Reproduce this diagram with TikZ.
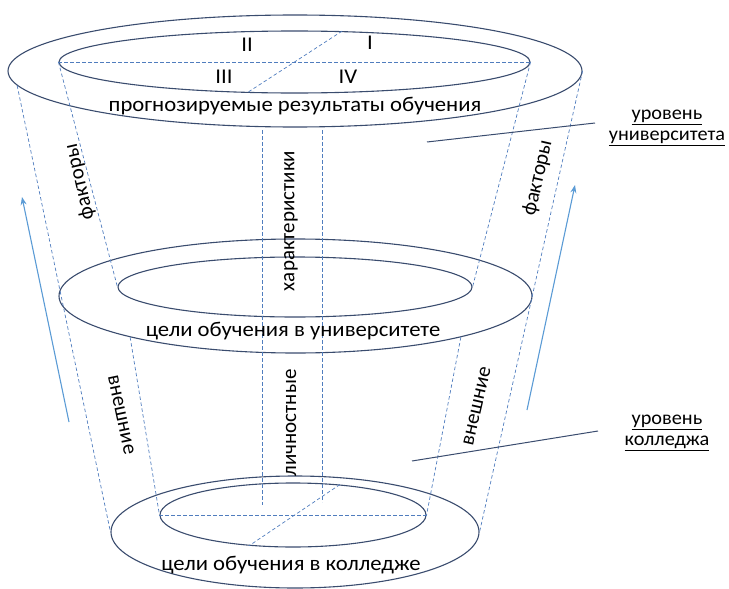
\documentclass[tikz,border=0pt]{standalone}
\usepackage{fontspec}
\setmainfont{Carlito}
\newfontfamily\wideface{Carlito}[FakeStretch=1.08]
\newfontfamily\sideface{Carlito}[FakeStretch=1.04]
\usetikzlibrary{positioning,arrows.meta,shapes.geometric}
\definecolor{ringcol}{RGB}{58,76,110}
\definecolor{dashcol}{RGB}{80,125,190}
\definecolor{flowcol}{RGB}{91,155,213}
\tikzset{
  ring/.style={draw=ringcol, ellipse, line width=1.1pt, inner sep=0pt},
  guide/.style={draw=dashcol, dash pattern=on 3.5pt off 2.5pt, line width=0.7pt},
  flow/.style={-{Stealth[length=8pt,width=6pt]}, draw=flowcol, line width=1.1pt},
  leader/.style={draw=ringcol, line width=1pt},
  lbl/.style={font=\wideface\fontsize{21}{23}\selectfont, inner sep=0pt},
  uplbl/.style={font=\fontsize{21}{23}\selectfont, inner sep=0pt},
  sidelbl/.style={font=\sideface\fontsize{19.5}{21}\selectfont, inner sep=0pt, align=center}
}

\begin{document}
\begin{tikzpicture}[x=1pt, y=-1pt]
  \useasboundingbox (0,0) rectangle (729,589);

  % rings of the cone
  \node[ring, minimum width=574pt, minimum height=112pt] (topout) at (295,71) {};
  \node[ring, minimum width=471pt, minimum height=62pt] (topin) at (294.5,62) {};
  \node[ring, minimum width=473pt, minimum height=114pt] (midout) at (295.5,296) {};
  \node[ring, minimum width=354pt, minimum height=60pt] (midin) at (295,287) {};
  \node[ring, minimum width=368pt, minimum height=112pt] (botout) at (295,532) {};
  \node[ring, minimum width=266pt, minimum height=64pt] (botin) at (293,515) {};

  % sides of the cone
  \draw[guide] (topout.183) -- (botout.west);
  \draw[guide] (topout.east) -- (botout.east);
  \draw[guide] (topin.west) -- (midin.west);
  \draw[guide] (topin.east) -- (midin.east);
  \draw[guide] (midout.194) -- (botin.west);
  \draw[guide] (midout.346) -- (botin.east);

  % quarters
  \draw[guide] (topin.west) -- (topin.east);
  \draw[guide] (topin.33) -- (topin.213);
  \draw[guide] (botin.west) -- (botin.east);
  \draw[guide] (botin.33) -- (botin.215);

  \coordinate (ch1top) at (262,130);
  \coordinate (ch1bot) at (262,505);
  \coordinate (ch2top) at (322,130);
  \coordinate (ch2bot) at (322,502);
  \draw[guide] (ch1top) -- (ch1bot);
  \draw[guide] (ch2top) -- (ch2bot);

  \node[lbl] (q2) at (247,45) {II};
  \node[lbl] (q1) at (370,43) {I};
  \node[lbl] (q3) at (224,77) {III};
  \node[lbl] (q4) at (348,77) {IV};

  \node[lbl] (results) at (295,106) {прогнозируемые результаты обучения};
  \node[lbl] (unigoal) at (293,331) {цели обучения в университете};
  \node[lbl] (colgoal) at (291,565) {цели обучения в колледже};

  \node[uplbl, rotate=90] (charact) at (291,221) {характеристики};
  \node[uplbl, rotate=90] (personal) at (291,423) {личностные};
  \node[uplbl, rotate=103] (factl) at (80,182) {факторы};
  \node[uplbl, rotate=77] (factr) at (538,178) {факторы};
  \node[uplbl, rotate=-78] (extl) at (121,415) {внешние};
  \node[uplbl, rotate=77] (extr) at (477,406) {внешние};

  % external influence
  \coordinate (flowl1) at (69,422);
  \coordinate (flowl2) at (22,197);
  \coordinate (flowr1) at (527,410);
  \coordinate (flowr2) at (575,185);
  \draw[flow] (flowl1) -- (flowl2);
  \draw[flow] (flowr1) -- (flowr2);

  % levels
  \node[sidelbl] (unilvl) at (667,128) {\underline{уровень}\\\underline{университета}};
  \node[sidelbl] (collvl) at (667,433) {\underline{уровень}\\\underline{колледжа}};
  \coordinate (unipt) at (427,142);
  \coordinate (unitip) at (595,123);
  \coordinate (colpt) at (412,461);
  \coordinate (coltip) at (598,431);
  \draw[leader] (unipt) -- (unitip);
  \draw[leader] (colpt) -- (coltip);
\end{tikzpicture}
\end{document}
